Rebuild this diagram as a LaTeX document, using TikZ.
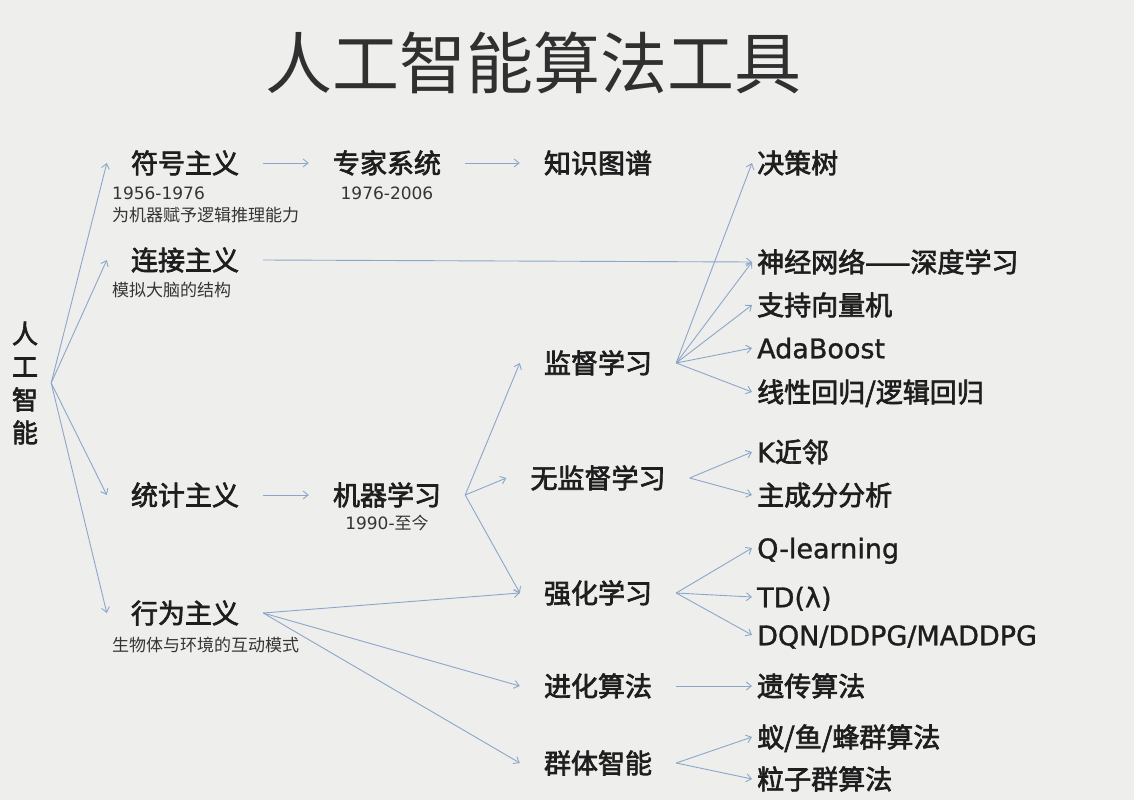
\documentclass[tikz,border=0pt]{standalone}
\usepackage{fontspec}
\setmainfont{Noto Sans CJK SC}
\newfontfamily\latinfont{DejaVu Sans}[FakeBold=1.2]
\newfontfamily\numfont{DejaVu Sans}
\newfontfamily\cjkmed{Noto Sans CJK SC}[FakeBold=2.5]
\usetikzlibrary{arrows.meta}
\definecolor{bgcol}{HTML}{EEEFEC}
\definecolor{arrcol}{HTML}{8CA6C9}
\definecolor{inkcol}{HTML}{1E1E1E}
\definecolor{titlecol}{HTML}{303030}

\begin{document}
\begin{tikzpicture}[x=1pt,y=-1pt,
  main/.style={inner xsep=24pt,inner ysep=0pt,text height=20.5pt,text depth=0pt,text=inkcol,font=\cjkmed\fontsize{27}{32}\selectfont},
  leaf/.style={main,anchor=west,inner xsep=5pt},
  note/.style={inner sep=0pt,text height=13pt,text depth=0pt,text=inkcol!90,font=\fontsize{17}{20}\selectfont},
  link/.style={draw=arrcol,line width=0.9pt,-{Straight Barb[length=5pt,width=8pt]}}]
  \fill[bgcol] (0,0) rectangle (1134,800);
  \useasboundingbox (0,0) rectangle (1134,800);
  % title and root
  \node[inner sep=0pt,text=titlecol,font=\fontsize{67}{70}\selectfont] (title) at (533,63) {人工智能算法工具};
  \node[inner xsep=13pt,inner ysep=0pt,align=center,text=inkcol,font=\cjkmed\fontsize{26}{33}\selectfont] (root) at (25,383) {人\\工\\智\\能};
  % schools
  \path (185,163) node[main] (sym) {符号主义} (185,260) node[main] (con) {连接主义}
  (185,495) node[main] (sta) {统计主义} (185,613) node[main] (act) {行为主义};
  \node[note,anchor=west] (symyr) at (112,193) {\numfont 1956-1976};
  \node[note,anchor=west] (symtx) at (112,215) {为机器赋予逻辑推理能力};
  \node[note,anchor=west] (contx) at (112,290) {模拟大脑的结构};
  \node[note,anchor=west] (acttx) at (112,645) {生物体与环境的互动模式};
  % middle columns
  \path (387,163) node[main] (exp) {专家系统} (598,163) node[main] (kg) {知识图谱}
  (387,495) node[main] (ml) {机器学习} (598,363) node[main] (supl) {监督学习}
  (598,478) node[main] (unsl) {无监督学习} (598,593) node[main] (rl) {强化学习}
  (598,686) node[main] (evo) {进化算法} (598,763) node[main] (swarm) {群体智能};
  \node[note] (expyr) at (387,193) {\numfont 1976-2006};
  \node[note] (mlyr) at (387,523) {{\numfont 1990-}至今};
  % algorithms
  \path (752,163) node[leaf] (dt) {决策树} (752,262) node[leaf] (nn) {神经网络——深度学习}
  (752,305) node[leaf] (svm) {支持向量机} (752,348) node[leaf] (ada) {\latinfont AdaBoost}
  (752,392) node[leaf] (lr) {线性回归/逻辑回归} (752,452) node[leaf] (knn) {{\latinfont K}近邻}
  (752,495) node[leaf] (pca) {主成分分析} (752,548) node[leaf] (ql) {\latinfont Q-learning}
  (752,597) node[leaf] (td) {\latinfont TD(λ)} (752,635) node[leaf] (dqn) {\latinfont DQN/DDPG/MADDPG}
  (752,686) node[leaf] (ga) {遗传算法} (752,737) node[leaf] (ant) {蚁/鱼/蜂群算法}
  (752,779) node[leaf] (pso) {粒子群算法};
  % connectors
  \foreach \t in {sym,con,sta,act} \draw[link] (root.east) -- (\t.west);
  \draw[link] (sym.east) -- (exp.west);
  \draw[link] (exp.east) -- (kg.west);
  \draw[link] (con.east) -- (nn.west);
  \draw[link] (sta.east) -- (ml.west);
  \foreach \t in {supl,unsl,rl} \draw[link] (ml.east) -- (\t.west);
  \foreach \t in {rl,evo,swarm} \draw[link] (act.east) -- (\t.west);
  \foreach \t in {dt,nn,svm,ada,lr} \draw[link] (supl.east) -- (\t.west);
  \foreach \t in {knn,pca} \draw[link] (unsl.east) -- (\t.west);
  \foreach \t in {ql,td,dqn} \draw[link] (rl.east) -- (\t.west);
  \draw[link] (evo.east) -- (ga.west);
  \foreach \t in {ant,pso} \draw[link] (swarm.east) -- (\t.west);
\end{tikzpicture}
\end{document}
